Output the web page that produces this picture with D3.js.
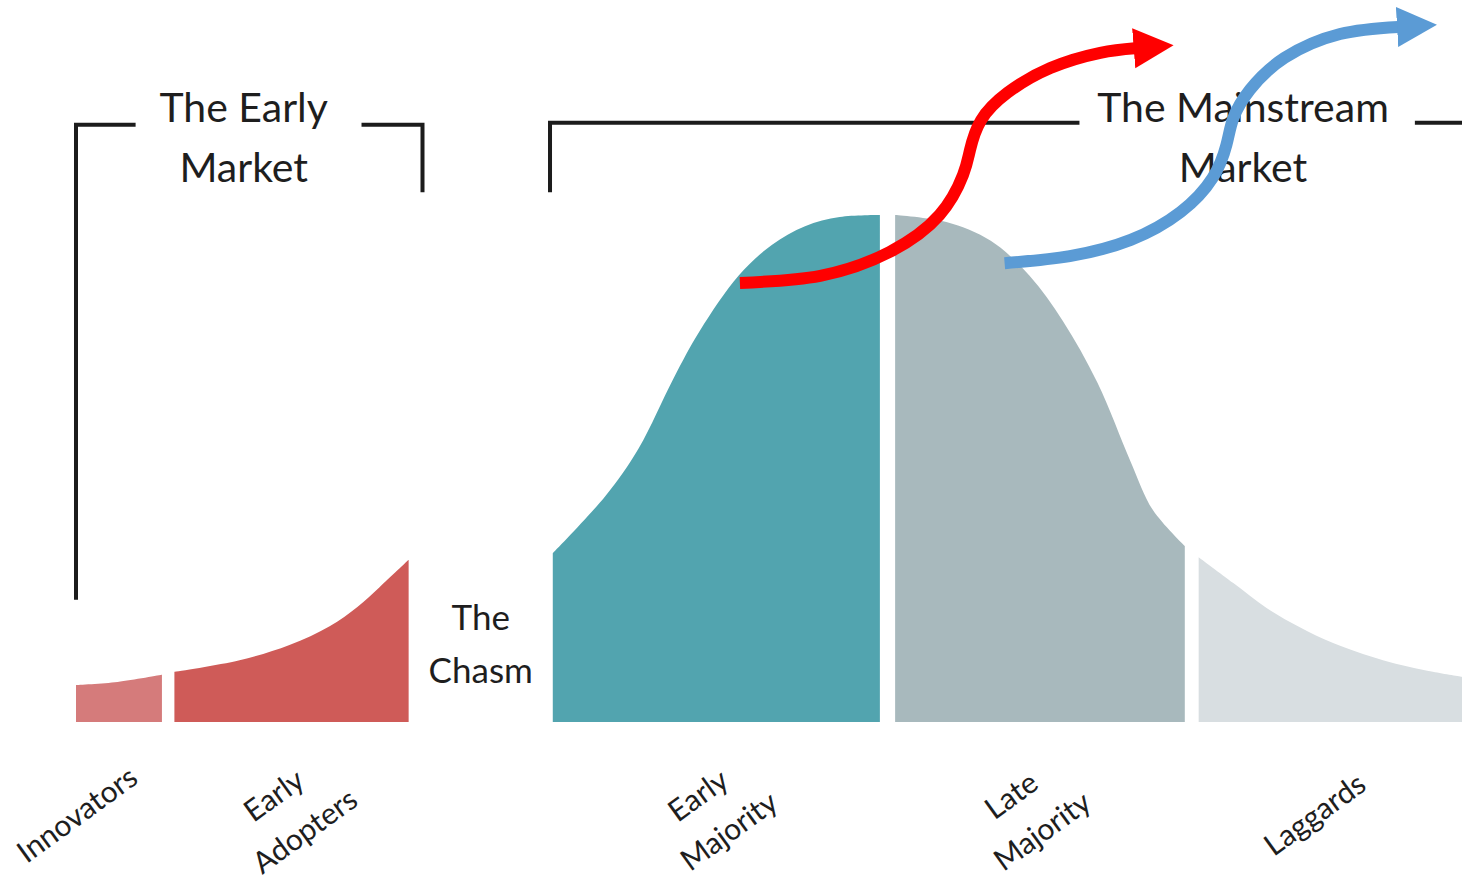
<!DOCTYPE html>
<meta charset="utf-8">
<script src="https://d3js.org/d3.v7.min.js"></script>
<style>
body { margin: 0; background: #fff; }
text { font-family: Lato, "Open Sans", sans-serif; fill: #1e1e1e; }
</style>
<div id="chart"></div>
<script>
// adoption curve
// x = position along the adoption timeline (0-100), h = height as % of the peak
var segmentNames = ["Innovators", "Early Adopters", "Early Majority", "Late Majority", "Laggards"];
var innovators = [[0, 7.3], [3.0, 7.9], [6.2, 9.3]];
var earlyAdopters = [[7.1, 9.9], [11.8, 12.2], [15.4, 15.2], [18.3, 18.9], [20.3, 22.7], [21.9, 26.6], [24.0, 32.0]];
var earlyMajority = [[34.4, 33.3], [38.2, 44.6], [40.6, 54.0], [43.1, 67.7], [45.0, 77.1], [47.8, 88.0],
                     [50.2, 94.1], [52.6, 97.8], [55.1, 99.6], [58.0, 100]];
var lateMajority = [[59.1, 100], [62.8, 98.6], [66.0, 94.9], [68.8, 88.0], [71.2, 79.1], [73.7, 66.9],
                    [76.1, 51.3], [77.7, 41.8], [80.0, 34.7]];
var laggards = [[81.0, 32.5], [83.5, 27.4], [85.9, 22.5], [88.3, 18.7], [90.7, 15.6], [94.3, 12.2],
                [97.9, 9.9], [100, 8.9]];
var segmentColors = ["#d57b7b", "#cf5b58", "#52a4af", "#a8b9bd", "#d8dee1"];

// category labels (rotated) and where they sit
var labelLines = [["Innovators"], ["Early", "Adopters"], ["Early", "Majority"], ["Late", "Majority"], ["Laggards"]];
var labelX = [0.1, 15.3, 45.9, 68.5, 89.4];
var labelH = -18.3;

// brackets: [x, h] corner points, plus titles
var earlyBracketLeft = [[0, 24.1], [0, 117.8], [4.3, 117.8]];
var earlyBracketRight = [[20.6, 117.8], [25.0, 117.8], [25.0, 104.5]];
var mainBracketLeft = [[34.2, 104.5], [34.2, 118.2], [72.4, 118.2]];
var mainBracketRight = [[96.6, 118.2], [103, 118.2]];
var titles = [{lines: ["The Early", "Market"], x: 12.1, h: 118.4},
              {lines: ["The Mainstream", "Market"], x: 84.2, h: 118.4}];
var chasmLabel = {lines: ["The", "Chasm"], x: 29.2, h: 18.1};

// the two crossing arrows
var redArrow = [[47.9, 86.6], [53.7, 88.0], [58.7, 92.7], [62.3, 100.0], [64.0, 107.9], [64.5, 112.8],
                [65.3, 118.7], [67.2, 124.1], [70.3, 129.0], [73.9, 132.0], [76.4, 132.9]];
var blueArrow = [[67.0, 90.5], [71.7, 91.9], [76.1, 95.1], [79.7, 100.6], [82.0, 107.3], [83.0, 113.8],
                 [83.5, 119.1], [84.7, 124.7], [87.2, 131.0], [91.2, 135.7], [95.4, 137.1]];

var W = 1462, H = 884;
var x = d3.scaleLinear().domain([0, 100]).range([76, 1462]);
var y = d3.scaleLinear().domain([0, 100]).range([722, 215]);

var svg = d3.select("#chart").append("svg")
    .attr("width", W)
    .attr("height", H);

// arrow heads
var defs = svg.append("defs");
[["head-red", "#ff0000"], ["head-blue", "#5b9bd5"]].forEach(function(m) {
  defs.append("marker")
      .attr("id", m[0])
      .attr("viewBox", "0 0 10 10")
      .attr("markerUnits", "userSpaceOnUse")
      .attr("markerWidth", 40)
      .attr("markerHeight", 42)
      .attr("refX", 0.3)
      .attr("refY", 5)
      .attr("orient", "auto")
    .append("path")
      .attr("d", "M0,0 L10,5 L0,10 Z")
      .attr("fill", m[1]);
});

// curve segments
var area = d3.area()
    .x(function(d) { return x(d[0]); })
    .y0(y(0))
    .y1(function(d) { return y(d[1]); })
    .curve(d3.curveCatmullRom.alpha(0.5));

var segs = [innovators, earlyAdopters, earlyMajority, lateMajority, laggards];
svg.append("g")
  .selectAll("path")
  .data(segs)
  .enter().append("path")
    .attr("d", area)
    .attr("fill", function(d, i) { return segmentColors[i]; });

// rotated category labels
var lab = svg.append("g")
  .selectAll("text")
  .data(labelLines)
  .enter().append("text")
    .attr("transform", function(d, i) { return "translate(" + x(labelX[i]) + "," + y(labelH) + ") rotate(-36)"; })
    .attr("text-anchor", "middle")
    .style("font-size", "30px");
lab.selectAll("tspan")
  .data(function(d) { return d.map(function(t, j) { return {t: t, j: j, n: d.length}; }); })
  .enter().append("tspan")
    .attr("x", function(d) { return d.j * 4; })
    .attr("y", function(d) { return (d.j - (d.n - 1) / 2) * 47 + 10; })
    .text(function(d) { return d.t; });

// brackets
var line = d3.line()
    .x(function(d) { return x(d[0]); })
    .y(function(d) { return y(d[1]); });
svg.append("g")
  .selectAll("path")
  .data([earlyBracketLeft, earlyBracketRight, mainBracketLeft, mainBracketRight])
  .enter().append("path")
    .attr("d", line)
    .attr("fill", "none")
    .attr("stroke", "#1c1c1c")
    .attr("stroke-width", 4);

// titles
function multiLine(g, d, size, gap) {
  var t = g.append("text")
      .attr("text-anchor", "middle")
      .style("font-size", size + "px");
  d.lines.forEach(function(s, j) {
    t.append("tspan")
        .attr("x", x(d.x))
        .attr("y", y(d.h) + j * gap)
        .text(s);
  });
}
var tg = svg.append("g");
titles.forEach(function(d) { multiLine(tg, d, 41, 60); });
multiLine(tg, chasmLabel, 35, 53);

// arrows
var arrowLine = d3.line()
    .x(function(d) { return x(d[0]); })
    .y(function(d) { return y(d[1]); })
    .curve(d3.curveNatural);
svg.append("path")
    .attr("d", arrowLine(redArrow))
    .attr("fill", "none")
    .attr("stroke", "#ff0000")
    .attr("stroke-width", 12)
    .attr("marker-end", "url(#head-red)");
svg.append("path")
    .attr("d", arrowLine(blueArrow))
    .attr("fill", "none")
    .attr("stroke", "#5b9bd5")
    .attr("stroke-width", 12)
    .attr("marker-end", "url(#head-blue)");
</script>
